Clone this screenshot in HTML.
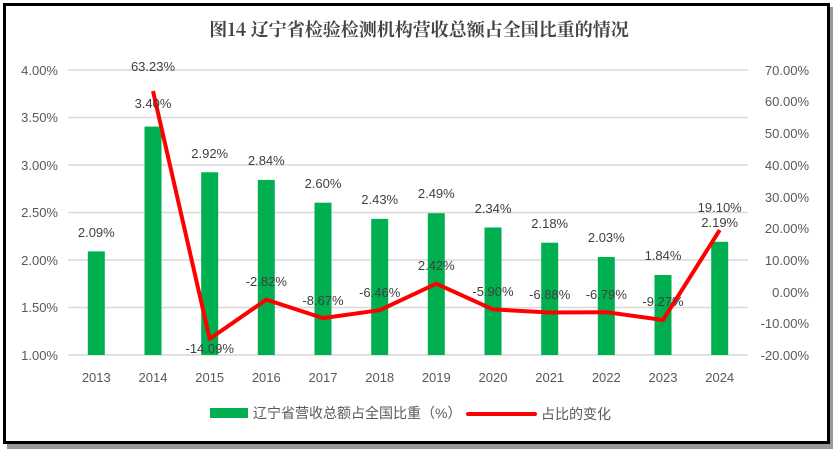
<!DOCTYPE html>
<html><head><meta charset="utf-8"><style>
body{margin:0;background:#fff;}
svg{display:block;font-family:"Liberation Sans","Noto Sans CJK SC",sans-serif;}
</style></head><body>
<svg width="838" height="454" xmlns="http://www.w3.org/2000/svg">
<rect x="0" y="0" width="838" height="454" fill="#fff"/>
<rect x="7" y="7" width="826" height="442" fill="#999"/>
<rect x="4.5" y="4.5" width="824" height="438" fill="#fff" stroke="#000" stroke-width="3"/>
<text x="419" y="36" text-anchor="middle" font-family="'Noto Serif CJK SC','Liberation Serif',serif" font-weight="bold" font-size="18" fill="#444">图14 辽宁省检验检测机构营收总额占全国比重的情况</text>
<g stroke="#d9d9d9" stroke-width="1.5">
<line x1="68" x2="748" y1="70" y2="70"/><line x1="68" x2="748" y1="117.5" y2="117.5"/>
<line x1="68" x2="748" y1="165" y2="165"/><line x1="68" x2="748" y1="212.5" y2="212.5"/>
<line x1="68" x2="748" y1="260" y2="260"/><line x1="68" x2="748" y1="307.5" y2="307.5"/>
<line x1="68" x2="748" y1="355" y2="355"/>
</g>
<g font-size="13" fill="#595959" text-anchor="end">
<text x="58" y="75">4.00%</text><text x="58" y="122">3.50%</text><text x="58" y="170">3.00%</text>
<text x="58" y="217">2.50%</text><text x="58" y="265">2.00%</text><text x="58" y="312">1.50%</text><text x="58" y="360">1.00%</text>
</g>
<g font-size="13" fill="#595959" text-anchor="end">
<text x="809" y="75">70.00%</text><text x="809" y="106">60.00%</text><text x="809" y="138">50.00%</text>
<text x="809" y="170">40.00%</text><text x="809" y="202">30.00%</text><text x="809" y="233">20.00%</text>
<text x="809" y="265">10.00%</text><text x="809" y="297">0.00%</text><text x="809" y="328">-10.00%</text><text x="809" y="360">-20.00%</text>
</g>
<g fill="#00b050">
<rect x="87.8" y="251.4" width="17" height="103.6"/>
<rect x="144.5" y="126.6" width="17" height="228.4"/>
<rect x="201.2" y="172.3" width="17" height="182.7"/>
<rect x="257.8" y="179.9" width="17" height="175.1"/>
<rect x="314.5" y="202.7" width="17" height="152.3"/>
<rect x="371.2" y="218.9" width="17" height="136.1"/>
<rect x="427.8" y="213.2" width="17" height="141.8"/>
<rect x="484.5" y="227.5" width="17" height="127.5"/>
<rect x="541.2" y="242.7" width="17" height="112.3"/>
<rect x="597.8" y="257.0" width="17" height="98.0"/>
<rect x="654.5" y="275.0" width="17" height="80.0"/>
<rect x="711.2" y="241.8" width="17" height="113.2"/>
</g>
<polyline fill="none" stroke="#ff0000" stroke-width="4" stroke-linejoin="round" points="153,91 209.7,338.9 266.3,299.6 323,318.1 379.7,310.2 436.3,283.7 493,309.4 549.7,312.5 606.3,312.2 663,320.0 719.7,230.1"/>
<g font-size="13" fill="#404040" text-anchor="middle">
<text x="96.3" y="237">2.09%</text><text x="153" y="108">3.40%</text><text x="209.7" y="158">2.92%</text>
<text x="266.3" y="165">2.84%</text><text x="323" y="188">2.60%</text><text x="379.7" y="204">2.43%</text>
<text x="436.3" y="198">2.49%</text><text x="493" y="213">2.34%</text><text x="549.7" y="228">2.18%</text>
<text x="606.3" y="242">2.03%</text><text x="663" y="260">1.84%</text><text x="719.7" y="227">2.19%</text>
<text x="153" y="71">63.23%</text><text x="209.7" y="353">-14.09%</text><text x="266.3" y="286">-2.82%</text>
<text x="323" y="305">-8.67%</text><text x="379.7" y="297">-6.46%</text><text x="436.3" y="270">2.42%</text>
<text x="493" y="296">-5.90%</text><text x="549.7" y="299">-6.88%</text><text x="606.3" y="299">-6.79%</text>
<text x="663" y="306">-9.27%</text><text x="719.7" y="212">19.10%</text>
</g>
<g font-size="13" fill="#595959" text-anchor="middle">
<text x="96.3" y="382">2013</text><text x="153" y="382">2014</text><text x="209.7" y="382">2015</text>
<text x="266.3" y="382">2016</text><text x="323" y="382">2017</text><text x="379.7" y="382">2018</text>
<text x="436.3" y="382">2019</text><text x="493" y="382">2020</text><text x="549.7" y="382">2021</text>
<text x="606.3" y="382">2022</text><text x="663" y="382">2023</text><text x="719.7" y="382">2024</text>
</g>
<rect x="210" y="408" width="38" height="10" fill="#00b050"/>
<text x="253" y="418" font-size="14" fill="#595959">辽宁省营收总额占全国比重（%）</text>
<line x1="468" x2="535" y1="414" y2="414" stroke="#ff0000" stroke-width="4" stroke-linecap="round"/>
<text x="541" y="419" font-size="14" fill="#595959">占比的变化</text>
</svg>
</body></html>
